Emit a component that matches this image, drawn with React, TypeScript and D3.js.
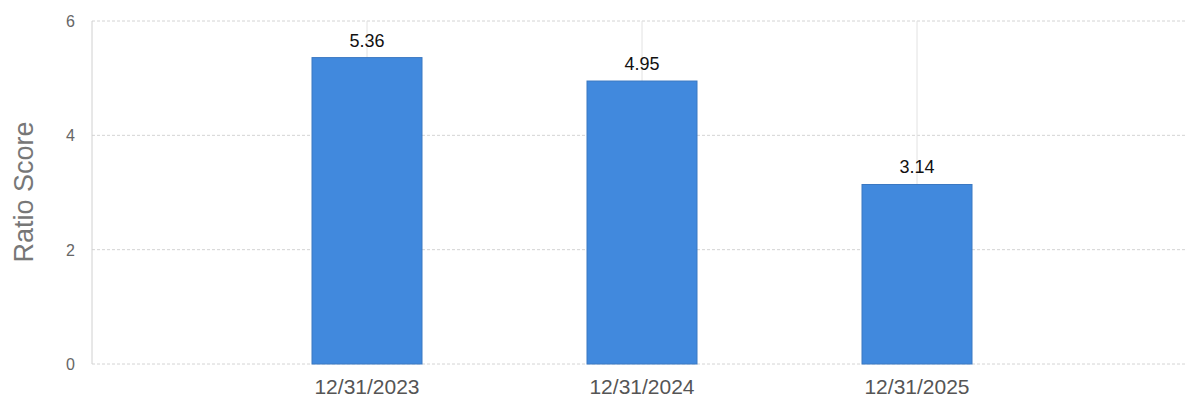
import React from "react";
import * as d3 from "d3";

const categories = ["12/31/2023", "12/31/2024", "12/31/2025"];
const values = [5.36, 4.95, 3.14];
const yTicks = [0, 2, 4, 6];
const yTitle = "Ratio Score";

const W = 1187;
const H = 397;
const left = 92;
const top = 21;
const bottom = 364;

export default function App() {
  const x = d3.scalePoint<string>().domain(categories).range([left, 1192]).padding(1);
  const step = x.step();
  const barW = step * 0.4;
  const y = d3.scaleLinear().domain([0, 6]).range([bottom, top]);
  const font = "'Liberation Sans', Arial, sans-serif";
  return (
    <svg width={W} height={H} style={{ position: "absolute", left: 0, top: 0, fontFamily: font }}>
      <rect width={W} height={H} fill="#fff" />
      {yTicks.map((t) => (
        <g key={t}>
          <line x1={left} x2={W} y1={y(t)} y2={y(t)} stroke="#d4d4d4" strokeDasharray="3,2" strokeWidth={1} />
          <text x={75} y={y(t) + 6} textAnchor="end" fontSize={16} fill="#666">{t}</text>
        </g>
      ))}
      <line x1={left} x2={left} y1={top} y2={bottom} stroke="#d0d0d0" strokeWidth={1} />
      {categories.map((c) => (
        <line key={c} x1={x(c)!} x2={x(c)!} y1={top} y2={bottom} stroke="#e2e2e2" strokeWidth={1} />
      ))}
      {categories.map((c, i) => (
        <g key={c}>
          <rect x={x(c)! - barW / 2} y={y(values[i])} width={barW} height={bottom - y(values[i])} fill="#4189DD" stroke="#3a78c2" strokeWidth={1} />
          <text x={x(c)!} y={y(values[i]) - 11} textAnchor="middle" fontSize={18} fill="#111">{values[i].toFixed(2)}</text>
          <text x={x(c)!} y={394} textAnchor="middle" fontSize={21} fill="#555">{c}</text>
        </g>
      ))}
      <text transform={`translate(33,192) rotate(-90)`} textAnchor="middle" fontSize={27} fill="#777">{yTitle}</text>
    </svg>
  );
}
